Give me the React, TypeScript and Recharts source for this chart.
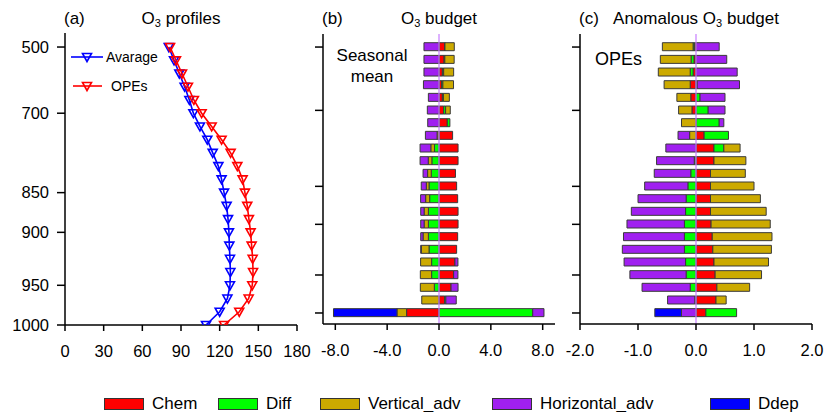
import React from "react";
import { ScatterChart, Scatter, BarChart, Bar, XAxis, YAxis, ReferenceLine } from "recharts";

const FONT = '"Liberation Sans", Arial, Helvetica, sans-serif';

// model levels, top (500 hPa) to surface (1000 hPa)
const levels = [0, 1, 2, 3, 4, 5, 6, 7, 8, 9, 10, 11, 12, 13, 14, 15, 16, 17, 18, 19, 20, 21];
const pressureTickLevels = [0, 5, 11, 14, 18, 21];
const pressureTickLabels = ["500", "700", "850", "900", "950", "1000"];

// (a) O3 profiles
const avgO3 = [80.5, 84.6, 88.7, 92.8, 96.5, 99.6, 104.7, 110.4, 114.6, 119, 121.5, 123.4, 125.4, 126.5, 127.2, 127.5, 128, 128.3, 128, 126, 120, 109.4];
const opesO3 = [81.5, 86.1, 90.8, 95.4, 100, 106, 113.8, 121.5, 128.5, 133.7, 137.8, 139.6, 141.4, 142.7, 144, 144.8, 145.6, 145.9, 145.3, 142.5, 135.2, 123.4];

// (b) seasonal mean budget
const seasonalChem = [0.44, 0.39, 0.26, 0.2, 0.26, 0.36, 0.64, 1.05, 1.47, 1.47, 1.27, 1.36, 1.44, 1.47, 1.47, 1.44, 1.36, 1.23, 1.13, 0.93, 0.43, -2.5];
const seasonalDiff = [0.02, 0.06, 0.1, 0.1, 0.08, 0.15, 0.2, 0, -0.35, -0.55, -0.6, -0.77, -0.72, -0.82, -0.82, -0.82, -0.77, -0.57, -0.57, -0.36, 0.1, 7.23];
const seasonalVert = [0.72, 0.72, 0.77, 0.82, 0.46, 0.36, 0, -0.15, -0.28, -0.28, -0.28, -0.21, -0.31, -0.33, -0.33, -0.41, -0.59, -0.85, -0.87, -1.08, -1.33, -0.74];
const seasonalHoriz = [-1.16, -1.16, -1.16, -1.2, -0.82, -0.9, -0.87, -0.9, -0.83, -0.63, -0.35, -0.39, -0.39, -0.26, -0.26, -0.18, -0.05, 0.23, 0.33, 0.54, 0.8, 0.87];
const seasonalDdep = [0, 0, 0, 0, 0, 0, 0, 0, 0, 0, 0, 0, 0, 0, 0, 0, 0, 0, 0, 0, 0, -4.9];

// (c) anomalous budget during OPEs
const anomChem = [-0.03, -0.035, -0.05, -0.1, -0.09, -0.07, 0, 0.14, 0.31, 0.31, 0.25, 0.25, 0.25, 0.25, 0.26, 0.28, 0.29, 0.31, 0.33, 0.36, 0.345, 0.17];
const anomDiff = [-0.02, -0.05, -0.05, 0.02, 0.07, 0.21, 0.4, 0.42, 0.17, -0.03, -0.09, -0.14, -0.17, -0.18, -0.2, -0.2, -0.2, -0.18, -0.17, -0.1, -0.02, 0.53];
const anomVert = [-0.53, -0.53, -0.55, -0.45, -0.24, -0.23, -0.25, -0.11, 0.28, 0.55, 0.6, 0.75, 0.86, 0.96, 1.02, 1.03, 1.01, 0.94, 0.8, 0.565, 0.175, 0];
const anomHoriz = [0.4, 0.53, 0.71, 0.73, 0.43, 0.29, 0.08, -0.2, -0.52, -0.65, -0.63, -0.745, -0.83, -0.935, -0.99, -1.05, -1.07, -1.06, -0.97, -0.83, -0.47, -0.25];
const anomDdep = [0, 0, 0, 0, 0, 0, 0, 0, 0, 0, 0, 0, 0, 0, 0, 0, 0, 0, 0, 0, 0, -0.46];

const seriesNames = ["Chem", "Diff", "Vertical_adv", "Horizontal_adv", "Ddep"];
const seriesKeys = ["chem", "diff", "vert", "horiz", "ddep"];
const seriesColors = ["#ff0000", "#00ff00", "#ccaa00", "#a020f0", "#0000ff"];

const avgPoints = levels.map((lv, i) => ({ level: lv, o3: avgO3[i] }));
const opesPoints = levels.map((lv, i) => ({ level: lv, o3: opesO3[i] }));

const seasonalRows = levels.map((lv, i) => ({
  level: lv,
  chem: seasonalChem[i],
  diff: seasonalDiff[i],
  vert: seasonalVert[i],
  horiz: seasonalHoriz[i],
  ddep: seasonalDdep[i],
}));
const anomRows = levels.map((lv, i) => ({
  level: lv,
  chem: anomChem[i],
  diff: anomDiff[i],
  vert: anomVert[i],
  horiz: anomHoriz[i],
  ddep: anomDdep[i],
}));

const axisLine = { stroke: "#000", strokeWidth: 1.5 };
const tickStyle = { fill: "#000", fontSize: 16.5, fontFamily: FONT };

const triangle = (color: string) => (props: any) => {
  const { cx, cy } = props;
  if (cx == null || cy == null) return null;
  const pts = `${cx - 4.5},${cy - 3.5} ${cx + 4.5},${cy - 3.5} ${cx},${cy + 4.5}`;
  return <polygon points={pts} fill="none" stroke={color} strokeWidth={1.6} />;
};

const pressureLabel = (v: number) => {
  const i = pressureTickLevels.indexOf(v);
  return i >= 0 ? pressureTickLabels[i] : "";
};

function ProfilePanel() {
  return (
    <ScatterChart width={330} height={360} margin={{ top: 33, right: 33, bottom: 5, left: 5 }}>
      <XAxis type="number" dataKey="o3" domain={[0, 180]} ticks={[0, 30, 60, 90, 120, 150, 180]}
        allowDataOverflow axisLine={axisLine} tickLine={axisLine} tickSize={6} tickMargin={14}
        height={30} tick={tickStyle} interval={0} />
      <XAxis xAxisId="top" orientation="top" type="number" domain={[0, 180]} height={0}
        tick={false} tickLine={false} axisLine={axisLine} />
      <YAxis type="number" dataKey="level" domain={[-1.06, 21]} reversed allowDataOverflow
        ticks={pressureTickLevels} tickFormatter={pressureLabel} width={60}
        axisLine={axisLine} tickLine={axisLine} tickSize={8} tickMargin={8} tick={tickStyle} interval={0} />
      <YAxis yAxisId="right" orientation="right" type="number" domain={[-1.06, 21]} width={0}
        tick={false} tickLine={false} axisLine={axisLine} />
      <Scatter data={avgPoints} shape={triangle("#0000ff")} line={{ stroke: "#0000ff", strokeWidth: 1.6 }}
        isAnimationActive={false} />
      <Scatter data={opesPoints} shape={triangle("#ff0000")} line={{ stroke: "#ff0000", strokeWidth: 1.6 }}
        isAnimationActive={false} />
    </ScatterChart>
  );
}

function BudgetPanel({ rows, domain, ticks, margin, width }: any) {
  return (
    <BarChart width={width} height={360} data={rows} layout="vertical" stackOffset="sign"
      margin={margin} barSize={8}>
      <XAxis type="number" domain={domain} ticks={ticks} allowDataOverflow interval={0}
        tickFormatter={(v: number) => v.toFixed(1)} axisLine={axisLine} tickLine={axisLine}
        tickSize={6} tickMargin={14} height={30} tick={tickStyle} />
      <XAxis xAxisId="top" orientation="top" type="number" domain={domain} height={0}
        tick={false} tickLine={false} axisLine={axisLine} />
      <YAxis type="number" dataKey="level" domain={[-1.03, 21.87]} allowDataOverflow
        ticks={pressureTickLevels} tickFormatter={() => ""} width={20} interval={0}
        axisLine={axisLine} tickLine={axisLine} tickSize={8} tick={tickStyle} />
      <YAxis yAxisId="right" orientation="right" type="number" domain={[-1.03, 21.87]} width={0}
        tick={false} tickLine={false} axisLine={axisLine} />
      {seriesKeys.map((k, i) => (
        <Bar key={k} dataKey={k} name={seriesNames[i]} stackId="budget" fill={seriesColors[i]}
          stroke="#3a3a3a" strokeWidth={1} isAnimationActive={false} />
      ))}
      <ReferenceLine x={0} stroke="#c77dff" strokeWidth={1.2} />
    </BarChart>
  );
}

const titleStyle: React.CSSProperties = {
  position: "absolute",
  top: 9,
  fontSize: 17,
  lineHeight: "20px",
  fontFamily: FONT,
  color: "#000",
  whiteSpace: "nowrap",
};

function O3() {
  return (
    <span>
      O<sub style={{ fontSize: 11, verticalAlign: -3 }}>3</sub>
    </span>
  );
}

export default function App() {
  return (
    <div style={{ position: "absolute", left: 0, top: 0, width: 826, height: 412, background: "#fff", fontFamily: FONT }}>
      <div style={{ position: "absolute", left: 0, top: 0 }}>
        <ProfilePanel />
      </div>
      <div style={{ position: "absolute", left: 300, top: 0 }}>
        <BudgetPanel rows={seasonalRows} domain={[-8.95, 8.95]} ticks={[-8, -4, 0, 4, 8]}
          margin={{ top: 34, right: 5, bottom: 6, left: 3 }} width={260} />
      </div>
      <div style={{ position: "absolute", left: 555, top: 0 }}>
        <BudgetPanel rows={anomRows} domain={[-2, 2]} ticks={[-2, -1, 0, 1, 2]}
          margin={{ top: 34, right: 14, bottom: 6, left: 5 }} width={271} />
      </div>

      <div style={{ ...titleStyle, left: 64 }}>(a)</div>
      <div style={{ ...titleStyle, left: 181, transform: "translateX(-50%)" }}><O3 /> profiles</div>
      <div style={{ ...titleStyle, left: 322 }}>(b)</div>
      <div style={{ ...titleStyle, left: 439, transform: "translateX(-50%)" }}><O3 /> budget</div>
      <div style={{ ...titleStyle, left: 579 }}>(c)</div>
      <div style={{ ...titleStyle, left: 696, transform: "translateX(-50%)" }}>Anomalous <O3 /> budget</div>

      <div style={{ position: "absolute", left: 372, top: 45, transform: "translateX(-50%)", textAlign: "center", fontSize: 17, lineHeight: "21px" }}>
        Seasonal<br />mean
      </div>
      <div style={{ position: "absolute", left: 595, top: 48, fontSize: 18, lineHeight: "22px" }}>OPEs</div>

      <svg style={{ position: "absolute", left: 0, top: 0 }} width={170} height={100}>
        <line x1={71} y1={57} x2={103} y2={57} stroke="#0000ff" strokeWidth={1.6} />
        {triangle("#0000ff")({ cx: 87, cy: 57 })}
        <text x={106} y={62} fontSize={14} fontFamily={FONT} fill="#000">Avarage</text>
        <line x1={73} y1={86} x2={102} y2={86} stroke="#ff0000" strokeWidth={1.6} />
        {triangle("#ff0000")({ cx: 87, cy: 86 })}
        <text x={111} y={91} fontSize={14} fontFamily={FONT} fill="#000">OPEs</text>
      </svg>

      {[104, 218, 320, 492, 710].map((x, i) => (
        <div key={seriesNames[i]} style={{ position: "absolute", left: x, top: 394, display: "flex", alignItems: "center", whiteSpace: "nowrap" }}>
          <div style={{ width: 40, height: 12, background: seriesColors[i], border: "1px solid #333", boxSizing: "border-box" }} />
          <span style={{ marginLeft: 8, fontSize: 17, lineHeight: "20px" }}>{seriesNames[i]}</span>
        </div>
      ))}
    </div>
  );
}
